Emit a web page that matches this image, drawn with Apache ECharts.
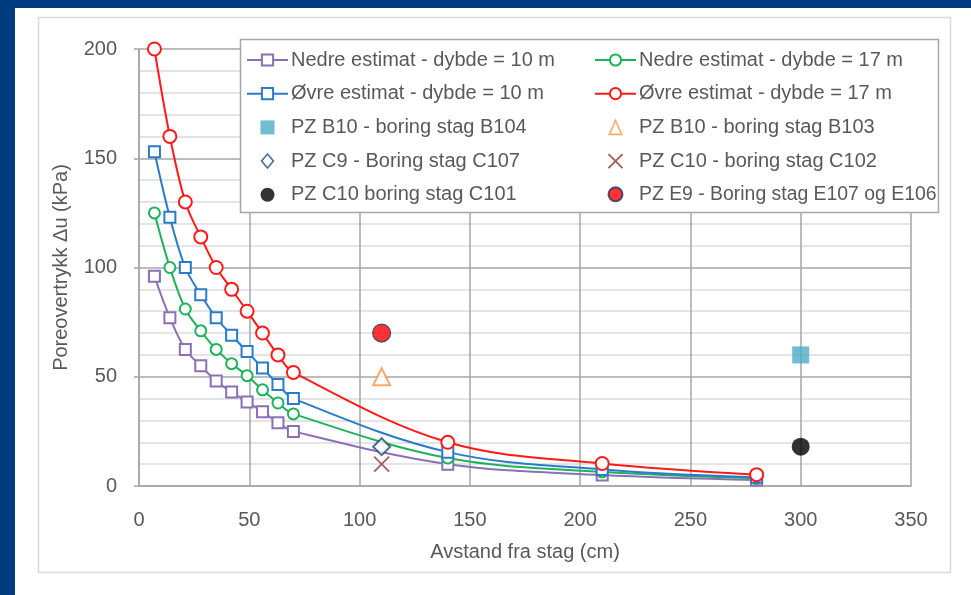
<!DOCTYPE html>
<html>
<head>
<meta charset="utf-8">
<script src="https://cdn.jsdelivr.net/npm/echarts@6/dist/echarts.min.js"></script>
<style>
html,body{margin:0;padding:0;background:#003a80;}
#c{width:971px;height:595px;}
</style>
</head>
<body>
<div id="c"></div>
<script>
// ---- data ----
var xCurve = [7, 14, 21, 28, 35, 42, 49, 56, 63, 70, 140, 210, 280];
var nedre10 = [96, 77, 62.5, 55, 48, 43, 38.5, 34, 29, 25, 10, 5, 2.7];
var ovre10 = [153, 123, 100, 87.5, 77, 69, 61.5, 54, 46.5, 40, 15.5, 7.6, 4];
var nedre17 = [125, 100, 81, 71, 62.5, 56, 50.5, 44, 38, 33, 12.8, 6.5, 3.5];
var ovre17 = [200, 160, 130, 114, 100, 90, 80, 70, 60, 52, 20, 10.3, 5.2];

var ptB104 = [[300, 60]];
var ptB103 = [[110, 50]];
var ptC107 = [[110, 18]];
var ptC102 = [[110, 10]];
var ptC101 = [[300, 18]];
var ptE9 = [[110, 70]];

var xTicks = [0, 50, 100, 150, 200, 250, 300, 350];
var yTicks = [0, 50, 100, 150, 200];

var names = {
  n10: 'Nedre estimat - dybde = 10 m',
  n17: 'Nedre estimat - dybde = 17 m',
  o10: '\u00d8vre estimat - dybde = 10 m',
  o17: '\u00d8vre estimat - dybde = 17 m',
  b104: 'PZ B10 - boring stag B104',
  b103: 'PZ B10 - boring stag B103',
  c107: 'PZ C9 - Boring stag C107',
  c102: 'PZ C10 - boring stag C102',
  c101: 'PZ C10 boring stag C101',
  e9: 'PZ E9 - Boring stag E107 og E106'
};

function zip(xs, ys) { return xs.map(function (x, i) { return [x, ys[i]]; }); }

var FONT = '"Liberation Sans", Arial, sans-serif';
var TXT = '#595959';

function lineSeries(name, data, color, symbol, size) {
  return {
    name: name, type: 'line', data: zip(xCurve, data), smooth: 0.35,
    symbol: symbol, symbolSize: size,
    lineStyle: { color: color, width: 2 },
    itemStyle: { color: color, borderColor: color, borderWidth: 1.6 },
    z: 3
  };
}

var legendCommon = {
  orient: 'vertical', top: 50, padding: 0,
  itemWidth: 41, itemHeight: 14, itemGap: 13.7,
  textStyle: { color: TXT, fontSize: 20, fontFamily: FONT, padding: [0, 0, 0, -2] },
  z: 10
};

var chart = echarts.init(document.getElementById('c'), null, { renderer: 'canvas' });
chart.setOption({
  backgroundColor: '#003a80',
  animation: false,
  textStyle: { fontFamily: FONT },
  graphic: [
    { type: 'rect', z: -10, shape: { x: 15, y: 8, width: 956, height: 587 }, style: { fill: '#ffffff' } },
    { type: 'rect', z: -9, shape: { x: 38.5, y: 17.5, width: 912, height: 555 }, style: { fill: '#ffffff', stroke: '#d9d9d9', lineWidth: 1.5 } },
    { type: 'rect', z: 3, shape: { x: 240.5, y: 39.5, width: 698, height: 173 }, style: { fill: '#ffffff', stroke: '#a6a6a6', lineWidth: 1.5 } }
  ],
  grid: { left: 139, right: 60, top: 49, bottom: 109, containLabel: false },
  xAxis: {
    type: 'value', min: 0, max: 350, interval: 50,
    name: 'Avstand fra stag (cm)', nameLocation: 'middle', nameGap: 56,
    nameTextStyle: { color: TXT, fontSize: 20, fontFamily: FONT },
    axisLine: { show: true, lineStyle: { color: '#a6a6a6', width: 1.5 } },
    axisTick: { show: false },
    axisLabel: { color: TXT, fontSize: 20, margin: 24, fontFamily: FONT,
      formatter: function (v) { return xTicks.indexOf(v) >= 0 ? String(v) : ''; } },
    splitLine: { show: true, lineStyle: { color: '#a6a6a6', width: 1.5 } }
  },
  yAxis: {
    type: 'value', min: 0, max: 200, interval: 50,
    name: 'Poreovertrykk \u0394u (kPa)', nameLocation: 'middle', nameGap: 68, nameRotate: 90,
    nameTextStyle: { color: TXT, fontSize: 20, fontFamily: FONT },
    axisLine: { show: true, lineStyle: { color: '#a6a6a6', width: 1.5 } },
    axisTick: { show: true, length: 5, lineStyle: { color: '#a6a6a6', width: 1.5 } },
    axisLabel: { color: TXT, fontSize: 20, margin: 22, fontFamily: FONT,
      formatter: function (v) { return yTicks.indexOf(v) >= 0 ? String(v) : ''; } },
    splitLine: { show: true, lineStyle: { color: '#a6a6a6', width: 1.5 } },
    minorTick: { show: false, splitNumber: 5 },
    minorSplitLine: { show: true, lineStyle: { color: '#dcdcdc', width: 1.5 } }
  },
  legend: [
    Object.assign({}, legendCommon, {
      left: 246,
      data: [names.n10, names.o10,
        { name: names.b104, icon: 'path://M0,0h10v10h-10z',
          itemStyle: { color: '#4bacc6', borderWidth: 0 } },
        { name: names.c107, icon: 'path://M6,0.5L11.5,7L6,13.5L0.5,7Z',
          itemStyle: { color: '#ffffff', borderColor: '#1f497d', borderWidth: 1.6 } },
        names.c101]
    }),
    Object.assign({}, legendCommon, {
      left: 594,
      data: [names.n17, names.o17,
        { name: names.b103, icon: 'path://M6,0.5L11.5,13L0.5,13Z',
          itemStyle: { color: '#ffffff', borderColor: '#f79646', borderWidth: 1.6 } },
        names.c102,
        { name: names.e9, textStyle: { fontSize: 19.4 } }]
    })
  ],
  series: [
    lineSeries(names.n10, nedre10, '#8c70b4', 'emptyRect', 11),
    lineSeries(names.n17, nedre17, '#1fb25a', 'emptyCircle', 11),
    lineSeries(names.o10, ovre10, '#2a7bcb', 'emptyRect', 11),
    lineSeries(names.o17, ovre17, '#ff1a1a', 'emptyCircle', 13),
    { name: names.b104, type: 'scatter', data: ptB104, symbol: 'rect', symbolSize: 17,
      itemStyle: { color: '#4bacc6' }, z: 4 },
    { name: names.b103, type: 'scatter', data: ptB103, symbol: 'emptyTriangle', symbolSize: 17,
      itemStyle: { color: '#f79646', borderColor: '#f79646', borderWidth: 1.6 }, z: 4 },
    { name: names.c107, type: 'scatter', data: ptC107, symbol: 'emptyDiamond', symbolSize: 17,
      itemStyle: { color: '#1f497d', borderColor: '#1f497d', borderWidth: 1.6 }, z: 4 },
    { name: names.c102, type: 'scatter', data: ptC102, symbol: 'path://M0,0L10,10M10,0L0,10', symbolSize: 15,
      itemStyle: { color: 'rgba(0,0,0,0)', borderColor: '#8b3a3a', borderWidth: 1.8 }, z: 4 },
    { name: names.c101, type: 'scatter', data: ptC101, symbol: 'circle', symbolSize: 18,
      itemStyle: { color: '#000000' }, z: 4 },
    { name: names.e9, type: 'scatter', data: ptE9, symbol: 'circle', symbolSize: 18,
      itemStyle: { color: '#ff0000', borderColor: '#1f3864', borderWidth: 1.2 }, z: 4 }
  ]
});
</script>
</body>
</html>
